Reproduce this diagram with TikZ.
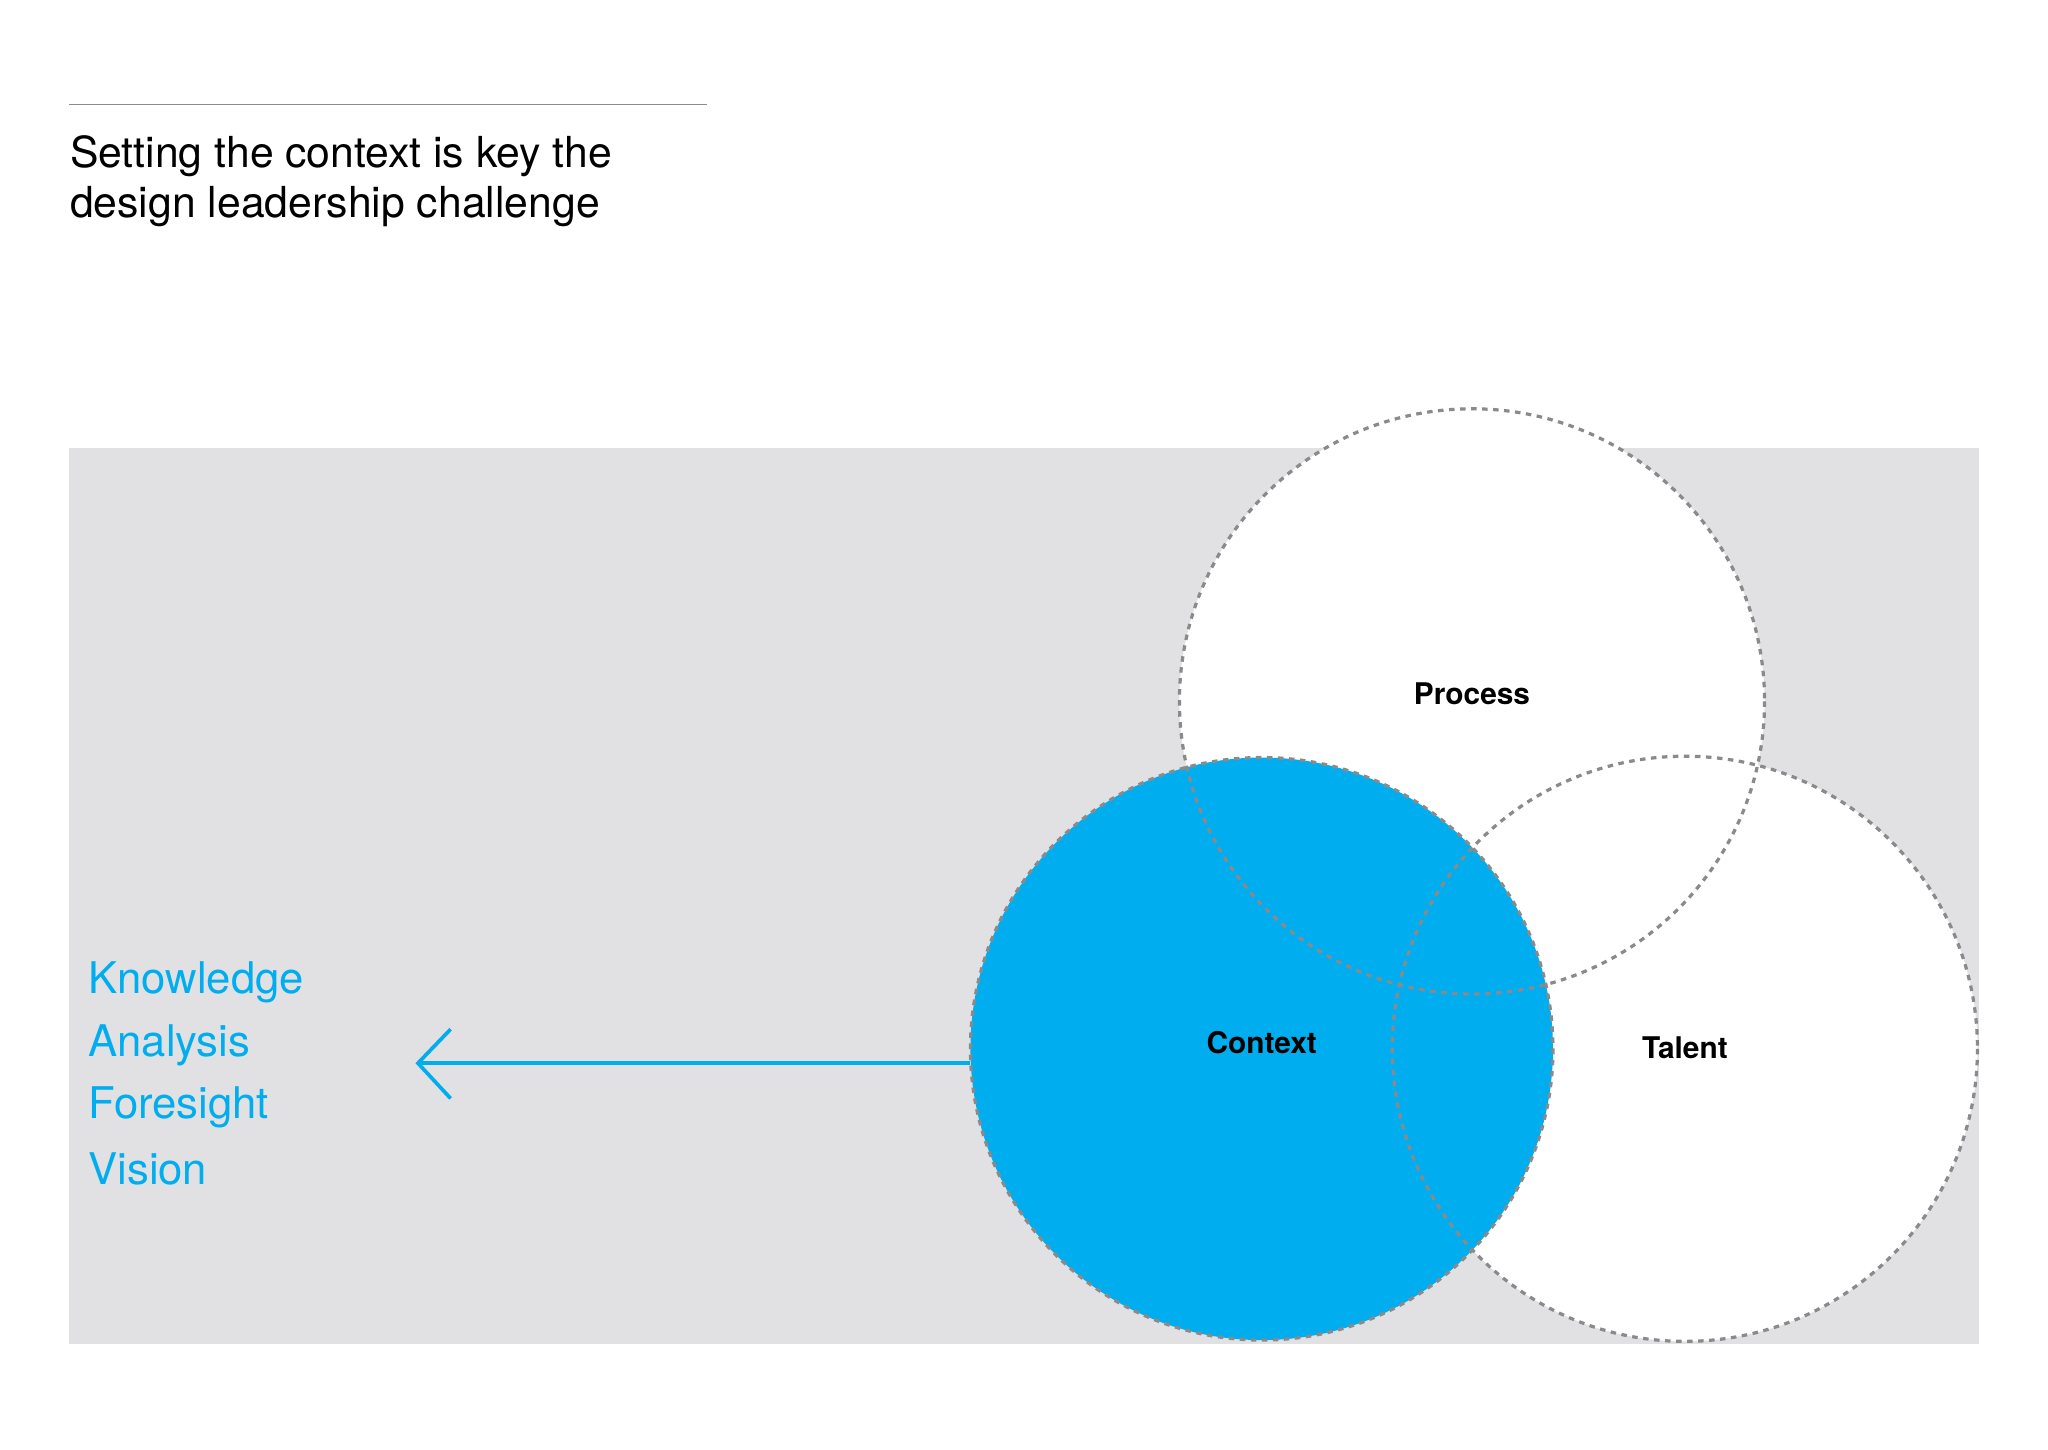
\documentclass[tikz,border=0pt]{standalone}
\usepackage{fontspec}
\setmainfont{TeX Gyre Heros}
\definecolor{bg}{HTML}{E1E0E2}
\definecolor{cblue}{HTML}{00AEEF}
\definecolor{dgray}{HTML}{8A8A8C}
\tikzset{
  ring/.style={draw=dgray, dash pattern=on 1.2pt off 1.2pt, line width=0.7pt},
  lbl/.style={font=\bfseries\fontsize{6.5}{8}\selectfont, text=black},
  item/.style={anchor=west, text=cblue, font=\fontsize{9.5}{11}\selectfont, inner sep=0pt}
}
\begin{document}
\begin{tikzpicture}[x=0.01cm,y=-0.01cm]
\useasboundingbox (0,0) rectangle (1568,1110);
\fill[white] (0,0) rectangle (1568,1110);
\draw[dgray, line width=0.4pt] (53,80) -- (541,80);
\node[anchor=north west, align=left, inner sep=0pt, font=\fontsize{9.3}{10.9}\selectfont] (title) at (53,103) {Setting the context is key the\\design leadership challenge};
\fill[bg] (53,343) rectangle (1515,1029);
\fill[white] (1127,537) circle (224);
\fill[white] (1290,803) circle (224);
\fill[cblue] (966,803) circle (223);
\draw[ring] (1127,537) circle (224);
\draw[ring] (1290,803) circle (224);
\draw[ring] (966,803) circle (223);
\node[lbl] (process) at (1127,531) {Process};
\node[lbl] (context) at (966,798) {Context};
\node[lbl] (talent) at (1290,802) {Talent};
\coordinate (astart) at (743,814);
\coordinate (atip) at (320,814);
\draw[cblue, line width=0.8pt] (astart) -- (atip);
\draw[cblue, line width=0.8pt] (345,788) -- (atip) -- (345,841);
\node[item] (k) at (67,752) {Knowledge};
\node[item] (a) at (67,800) {Analysis};
\node[item] (f) at (67,848) {Foresight};
\node[item] (v) at (67,895) {Vision};
\end{tikzpicture}
\end{document}
